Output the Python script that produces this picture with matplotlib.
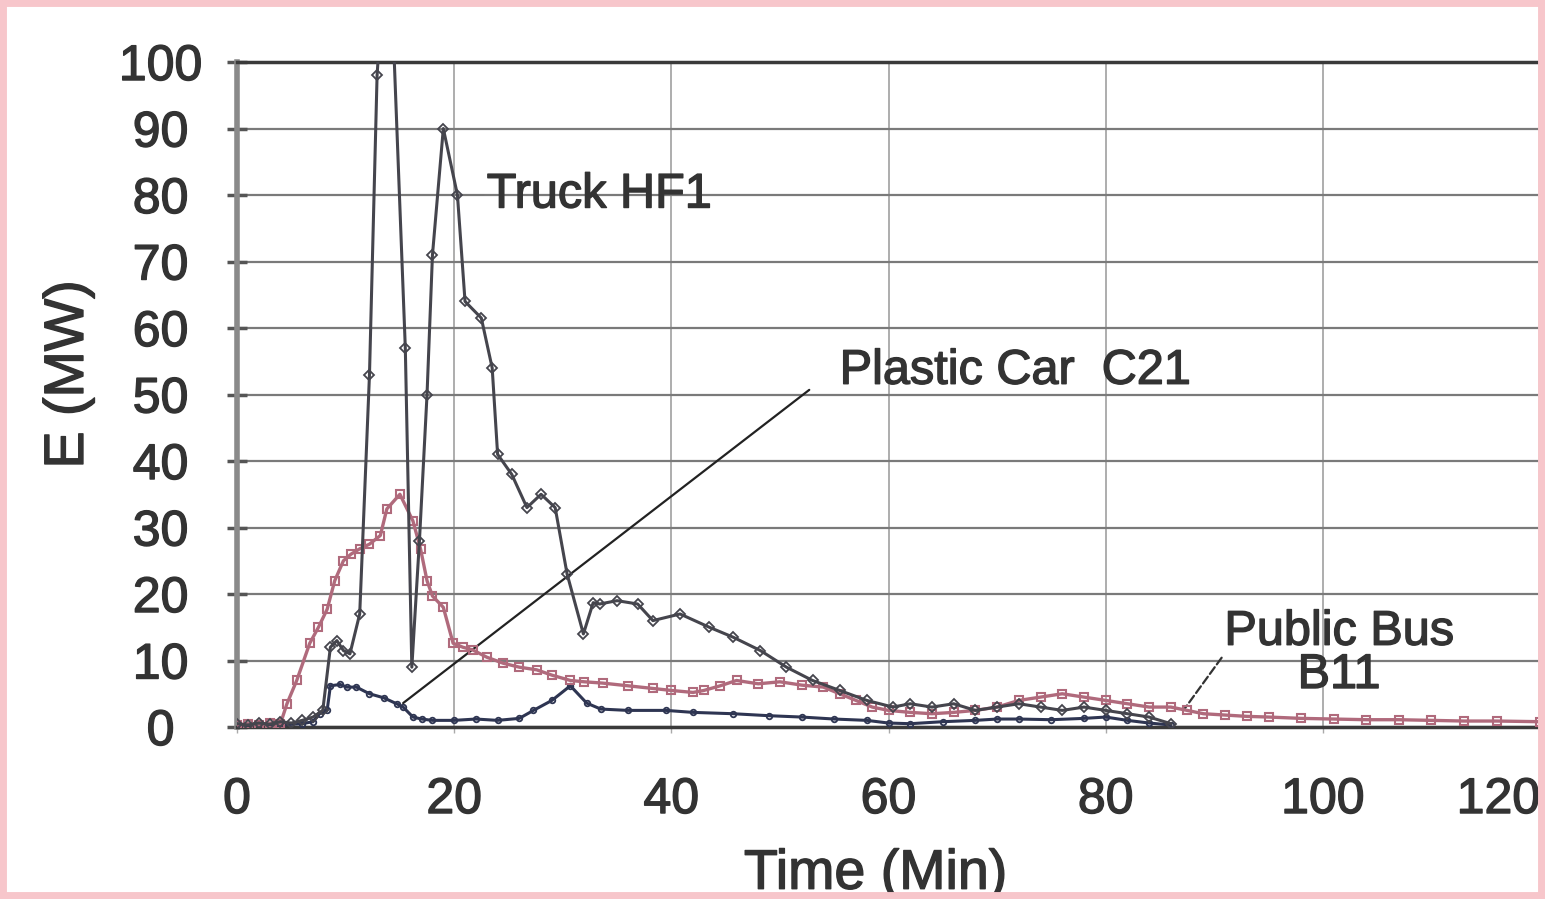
import matplotlib
matplotlib.use("Agg")
import matplotlib.pyplot as plt
import matplotlib.patheffects as pe
from matplotlib.patches import Rectangle

plt.rcParams["font.family"] = ["Liberation Sans", "DejaVu Sans"]

# Truck HF1
truck_t = [0, 1, 2, 3, 4, 5, 6, 7, 7.9, 8.6, 9.2, 9.8, 10.4, 11.3, 12.2, 12.9,
           13.3, 14.3, 15.5, 16.1, 16.8, 17.5, 18.0, 19.0, 20.3, 21.0, 22.5,
           23.5, 24.0, 25.3, 26.7, 28.0, 29.3, 30.4, 31.9, 32.8, 33.4, 35.0,
           36.9, 38.3, 40.8, 43.5, 45.7, 48.2, 50.6, 53.0, 55.5, 58.0, 60.4,
           62, 64, 66, 68, 70, 72, 74, 76, 78, 80, 82, 84, 86]
truck_e = [0.5, 0.3, 0.6, 0.4, 0.8, 0.6, 1.0, 1.5, 2.5, 12, 13, 11.5, 11, 17, 53, 98,
           108, 108, 57, 9, 28, 50, 71, 90, 80, 64, 61.5,
           54, 41, 38, 33, 35, 33, 23, 14, 18.7, 18.5, 19,
           18.5, 16, 17, 15, 13.5, 11.5, 9, 7, 5.5, 4, 3,
           3.5, 3, 3.5, 2.5, 3, 3.5, 3, 2.5, 3, 2.5, 2, 1.5, 0.5]

# Public Bus B11
bus_t = [0, 1, 2, 3, 4, 4.6, 5.5, 6.7, 7.5, 8.3, 9.0, 9.8, 10.5, 11.3, 12.2,
         13.2, 13.8, 15.0, 16.2, 16.9, 17.5, 18.0, 19.0, 19.9, 20.8, 21.7, 23,
         24.5, 26, 27.6, 29, 30.7, 32, 33.7, 36, 38.3, 40, 42, 43, 44.5, 46, 48,
         50, 52, 54, 55.5, 57, 58.5, 60, 62, 64, 66, 68, 70, 72, 74, 76, 78, 80,
         82, 84, 86, 87.5, 89, 91, 93, 95, 98, 101, 104, 107, 110, 113, 116, 120]
bus_e = [0.3, 0.5, 0.3, 0.6, 0.5, 3.5, 7, 12.6, 15, 17.7, 22, 25, 26, 26.8, 27.5,
         28.8, 32.8, 35, 31, 26.8, 22, 19.7, 18, 12.6, 12, 11.6, 10.5,
         9.6, 9, 8.6, 7.8, 7, 6.8, 6.6, 6.2, 5.8, 5.5, 5.2, 5.5, 6.2, 7, 6.5,
         6.8, 6.3, 6, 5, 4, 3, 2.5, 2.2, 2, 2.2, 2.5, 3, 4, 4.5, 5, 4.5, 4,
         3.5, 3, 3, 2.5, 2, 1.8, 1.6, 1.5, 1.3, 1.2, 1.1, 1.1, 1, 0.9, 0.9, 0.8]

# Plastic Car C21
car_t = [0, 2, 4, 6, 7, 7.6, 8.3, 8.6, 9.5, 10.1, 11, 12.2, 13.5, 14.7, 15.3,
         16.2, 17, 18, 20, 22, 24, 26, 27.3, 29, 30.7, 32.2, 33.5, 36, 39.5,
         42, 45.7, 49, 52, 55, 58, 60, 62, 65, 68, 70, 72, 75, 78, 80, 82, 84, 86]
car_e = [0.2, 0.4, 0.3, 0.5, 0.8, 2, 2.5, 6.2, 6.4, 6, 6, 5, 4.4, 3.5, 3,
         1.5, 1.2, 1, 1, 1.2, 1, 1.3, 2.5, 4, 6.2, 3.6, 2.7, 2.5, 2.5,
         2.2, 2, 1.7, 1.5, 1.2, 1, 0.6, 0.5, 0.8, 1, 1.2, 1.2, 1.1, 1.3, 1.5, 1, 0.6, 0.3]

x_ticks = [0, 20, 40, 60, 80, 100, 120]
y_ticks = [0, 10, 20, 30, 40, 50, 60, 70, 80, 90, 100]

txt_col = "#333333"
bold = [pe.withStroke(linewidth=1.0, foreground=txt_col)]

fig = plt.figure(figsize=(15.45, 8.99), dpi=100)
ax = fig.add_axes([0.1534, 0.1913, 0.8434, 0.7397])

ax.plot(car_t, car_e, color="#2e3552", lw=2.2, marker="o", ms=4,
        mfc="none", mew=1.3, zorder=3)
ax.plot(bus_t, bus_e, color="#b06a7c", lw=2.4, marker="s", ms=5.5,
        mfc="none", mew=1.5, zorder=4)
ax.plot(truck_t, truck_e, color="#45454d", lw=2.2, marker="D", ms=5,
        mfc="none", mew=1.3, zorder=5)

ax.set_xlim(0, 120)
ax.set_ylim(0, 100)
ax.set_xticks(x_ticks)
ax.set_yticks(y_ticks)

ax.grid(axis="y", color="#7a7a7a", lw=1.6)
ax.grid(axis="x", color="#a0a0a0", lw=1.2)
ax.set_axisbelow(True)

for s in ["top", "bottom"]:
    ax.spines[s].set_color("#3a3a3a")
    ax.spines[s].set_linewidth(2.5)
ax.spines["left"].set_color("#8a8a8a")
ax.spines["left"].set_linewidth(4)
ax.spines["right"].set_color("#606060")
ax.spines["right"].set_linewidth(2.5)

ax.tick_params(axis="y", direction="inout", length=14, width=2.5,
               color="#555555", labelsize=36, labelcolor=txt_col, pad=48)
ax.tick_params(axis="x", direction="out", length=4, width=1,
               color="#aaaaaa", labelsize=36, labelcolor=txt_col, pad=32)
for lab in ax.get_yticklabels() + ax.get_xticklabels():
    lab.set_path_effects(bold)
for lab in ax.get_yticklabels():
    lab.set_horizontalalignment("center")
ax.get_xticklabels()[-1].set_horizontalalignment("right")

ax.set_xlabel("Time (Min)", fontsize=40, color=txt_col, path_effects=bold)
ax.xaxis.set_label_coords(0.49, -0.183)
ax.set_ylabel("E (MW)", fontsize=40, color=txt_col, path_effects=bold)
ax.yaxis.set_label_coords(-0.109, 0.53)

# annotations
ax.annotate("Truck HF1", xy=(20.3, 80), xytext=(23, 80), fontsize=35,
            color=txt_col, va="center", path_effects=bold,
            arrowprops=dict(arrowstyle="-", color="#777777", lw=1,
                            shrinkA=0, shrinkB=0, relpos=(0.0, 0.5)))
ax.annotate("", xy=(15.3, 3.6), xytext=(52.7, 50.7),
            arrowprops=dict(arrowstyle="-", color="#222222", lw=1.6,
                            shrinkA=0, shrinkB=0))
ax.text(55.5, 53.5, "Plastic Car  C21", fontsize=35, color=txt_col,
        va="center", path_effects=bold)
ax.annotate("Public Bus\nB11", xy=(87.2, 2.6), xytext=(101.5, 11),
            fontsize=35, color=txt_col, ha="center", va="center",
            linespacing=0.95, path_effects=bold,
            arrowprops=dict(arrowstyle="-", color="#333333", lw=1.6,
                            ls="--", shrinkA=0, shrinkB=0,
                            relpos=(0.0, 0.5)))

# pink frame
fig.patches.append(Rectangle((0, 0), 1, 1, transform=fig.transFigure,
                             fill=False, edgecolor="#f7c6cb", lw=10))

fig.savefig("out.png", dpi=100)
